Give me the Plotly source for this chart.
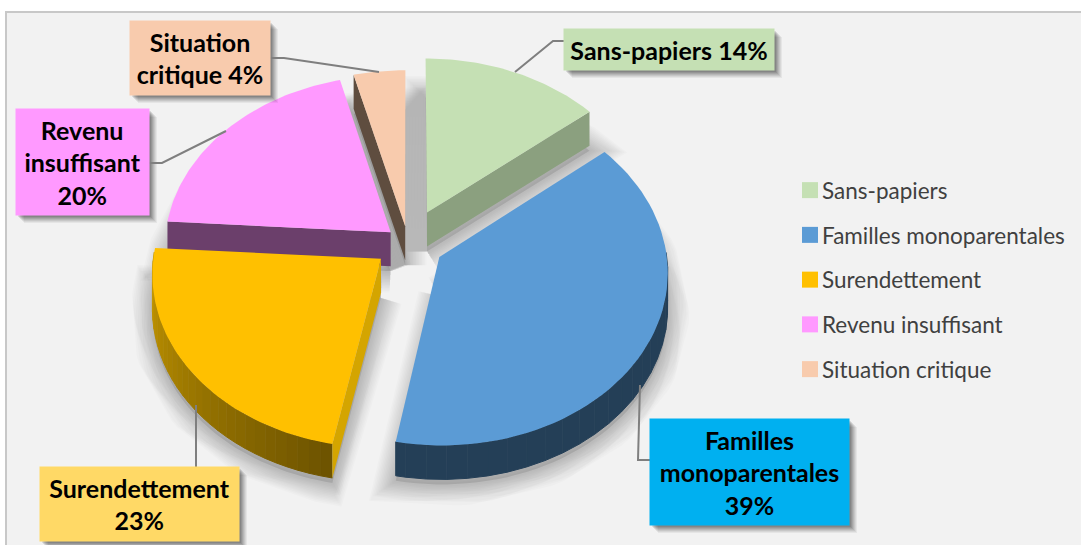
import numpy as np
import plotly.graph_objects as go

# ---- data ----
categories = ["Sans-papiers", "Familles monoparentales", "Surendettement", "Revenu insuffisant", "Situation critique"]
values = [14, 39, 23, 20, 4]
label_lines = [["Sans-papiers 14%"], ["Familles", "monoparentales", "39%"], ["Surendettement", "23%"],
               ["Revenu", "insuffisant", "20%"], ["Situation", "critique 4%"]]

# ---- styles ----
top_colors = ["#C5E0B4", "#5B9BD5", "#FFC000", "#FF99FF", "#F8CBAD"]
edge_colors = ["#8BA07F", "#243F57", "#D4A500", "#6B3F6B", "#5F4D3F"]
arc_from = ["#8BA07F", "#243F57", "#6E5400", "#6B3F6B", "#5F4D3F"]
arc_to = ["#8BA07F", "#243F57", "#CB9C00", "#6B3F6B", "#5F4D3F"]
box_colors = ["#C5E0B4", "#00B0F0", "#FFD966", "#FF99FF", "#F8CBAD"]
pulls = [0.20, 0.16, 0.15, 0.10, 0.10]
wall_edge = [-1, None, 0, 0, 0]   # which straight side of each slice faces the viewer
draw_order = [0, 4, 3, 2, 1]
boxes = [(564, 29, 774, 70), (650, 419, 849, 525), (40, 467, 239, 541), (16, 109, 149, 215), (130, 21, 270, 95)]
leaders = [[(515, 72), (553, 41), (564, 41)], [(640, 385), (638, 460), (650, 460)], [(196, 405), (196, 467)],
           [(226, 131), (162, 163), (149, 163)], [(379, 72), (284, 58), (270, 58)]]
CX, CY, A, B, K, DEPTH = 408, 243, 226, 171, 0.08, 34


def project(x, y):
    w = 1 + K * y
    return CX + A * x / w, CY - B * y / w


def hex_mix(c1, c2, t):
    a = [int(c1[i:i + 2], 16) for i in (1, 3, 5)]
    b = [int(c2[i:i + 2], 16) for i in (1, 3, 5)]
    return "rgb(%d,%d,%d)" % tuple(round(p + (q - p) * t) for p, q in zip(a, b))


fractions = np.array(values) / sum(values)
ends = np.cumsum(fractions) * 2 * np.pi
starts = ends - fractions * 2 * np.pi

slices = []
for i in range(len(values)):
    mid = (starts[i] + ends[i]) / 2
    ox, oy = pulls[i] * np.sin(mid), pulls[i] * np.cos(mid)
    th = np.linspace(starts[i], ends[i], 60)
    ax, ay = project(ox + np.sin(th), oy + np.cos(th))
    px, py = project(ox, oy)
    slices.append((ax, ay, px, py, th))

fig = go.Figure()


def poly(xs, ys, color, name=None, lw=0):
    fig.add_trace(go.Scatter(x=list(xs), y=list(ys), mode="lines", fill="toself", fillcolor=color,
                             line=dict(width=lw, color=color), hoverinfo="skip", showlegend=False,
                             name=name))


# soft shadows
for i in draw_order:
    ax, ay, px, py, th = slices[i]
    sx = np.r_[px, ax, px]
    sy = np.r_[py, ay, py] + DEPTH + 5
    fig.add_trace(go.Scatter(x=sx, y=sy, mode="lines", fill="toself", fillcolor="rgba(0,0,0,0.11)",
                             hoverinfo="skip", showlegend=False, line=dict(width=0)))
    for w in range(4, 46, 3):
        fig.add_trace(go.Scatter(x=sx, y=sy, mode="lines", hoverinfo="skip", showlegend=False,
                                 line=dict(width=w, color="rgba(0,0,0,0.016)")))

# slices: walls then top
for i in draw_order:
    ax, ay, px, py, th = slices[i]
    n = len(ax)
    for j in range(0, n - 1, 2):
        k = min(j + 3, n)
        if np.cos(th[j]) > 0.0 and np.cos(th[k - 1]) > 0.0:
            continue   # this part of the rim faces away from the viewer
        t = j / (n - 2)
        c = hex_mix(arc_from[i], arc_to[i], t)
        poly(np.r_[ax[j:k], ax[j:k][::-1]], np.r_[ay[j:k], ay[j:k][::-1] + DEPTH], c, lw=1)
    if wall_edge[i] is not None:
        qx, qy = ax[wall_edge[i]], ay[wall_edge[i]]
        poly([px, qx, qx, px], [py, qy, qy + DEPTH, py + DEPTH], edge_colors[i])
    poly(np.r_[px, ax], np.r_[py, ay], top_colors[i], categories[i])

# legend
for i, c in enumerate(categories):
    fig.add_trace(go.Scatter(x=[None], y=[None], mode="markers", name=c, legendgroup=c,
                             marker=dict(symbol="square", size=16, color=top_colors[i], line=dict(width=0))))

shapes = [dict(type="rect", xref="x", yref="y", x0=6, y0=12, x1=1095, y1=560, layer="below",
               fillcolor="#F2F2F2", line=dict(color="#C8C8C8", width=2))]
annotations = []
for i, (x0, y0, x1, y1) in enumerate(boxes):
    for off, op in ((8, 0.05), (7, 0.06), (6, 0.07), (5, 0.08), (4, 0.09), (3, 0.10), (2, 0.10)):
        shapes.append(dict(type="rect", xref="x", yref="y", x0=x0 + off, y0=y0 + off, x1=x1 + off, y1=y1 + off,
                           fillcolor="rgba(0,0,0,%s)" % op, line=dict(width=0), layer="above"))
    pts = leaders[i]
    path = "M" + " L".join("%s,%s" % p for p in pts)
    shapes.append(dict(type="path", xref="x", yref="y", path=path, layer="above",
                       line=dict(color="#7F7F7F", width=2)))
    annotations.append(dict(x=(x0 + x1) / 2, y=(y0 + y1) / 2, xref="x", yref="y", xanchor="center", yanchor="middle",
                            width=x1 - x0, height=y1 - y0, bgcolor=box_colors[i], borderpad=0, showarrow=False,
                            align="center", valign="middle",
                            text="<b>" + "<br>".join(label_lines[i]) + "</b>",
                            font=dict(family="Lato", size=25, color="#000000")))

fig.update_layout(
    width=1081, height=545, margin=dict(l=0, r=0, t=0, b=0), paper_bgcolor="#FFFFFF", plot_bgcolor="rgba(0,0,0,0)",
    xaxis=dict(range=[0, 1081], visible=False, fixedrange=True),
    yaxis=dict(range=[545, 0], visible=False, fixedrange=True),
    shapes=shapes, annotations=annotations,
    legend=dict(x=782 / 1081, y=1 - 169 / 545, xanchor="left", yanchor="top", bgcolor="rgba(0,0,0,0)",
                font=dict(family="Lato", size=22.5, color="#404040"), tracegroupgap=12.5),
)
fig.write_html("out.html", config=dict(displayModeBar=False),
               post_script="document.body.style.margin='0';document.body.style.overflow='hidden';"
                           "setTimeout(function(){document.querySelectorAll('.legendsymbols').forEach("
                           "function(e){e.setAttribute('transform','translate(8,0)');});},30);")
